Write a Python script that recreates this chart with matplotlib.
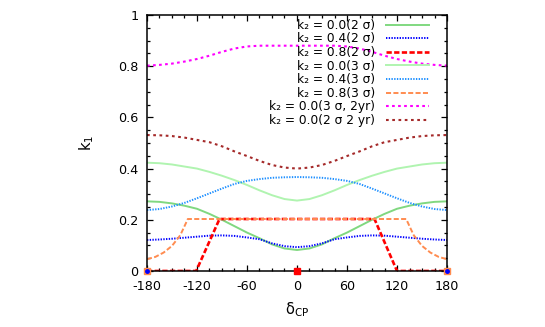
import matplotlib
matplotlib.use('Agg')
import matplotlib.pyplot as plt

plt.rcParams['font.family'] = ['DejaVu Sans']
plt.rcParams['mathtext.default'] = 'regular'
plt.rcParams['axes.unicode_minus'] = False

# delta_CP grid (degrees) for the smooth curves
delta = [-180, -165, -150, -135, -120, -105, -90, -75, -60, -45, -30, -15,
         0, 15, 30, 45, 60, 75, 90, 105, 120, 135, 150, 165, 180]

k1_00_2s = [0.272, 0.270, 0.264, 0.255, 0.243, 0.223, 0.200, 0.175, 0.150,
            0.128, 0.104, 0.088, 0.082, 0.088, 0.104, 0.128, 0.150, 0.175,
            0.200, 0.223, 0.243, 0.255, 0.264, 0.270, 0.272]
k1_04_2s = [0.121, 0.123, 0.126, 0.130, 0.134, 0.138, 0.139, 0.137, 0.131,
            0.124, 0.108, 0.097, 0.093, 0.097, 0.108, 0.124, 0.131, 0.137,
            0.139, 0.138, 0.134, 0.130, 0.126, 0.123, 0.121]
k1_00_3s = [0.423, 0.421, 0.416, 0.408, 0.400, 0.387, 0.372, 0.355, 0.336,
            0.315, 0.296, 0.281, 0.275, 0.281, 0.296, 0.315, 0.336, 0.355,
            0.372, 0.387, 0.400, 0.408, 0.416, 0.421, 0.423]
k1_04_3s = [0.238, 0.242, 0.252, 0.266, 0.284, 0.303, 0.322, 0.340, 0.352,
            0.359, 0.364, 0.366, 0.367, 0.366, 0.364, 0.359, 0.352, 0.340,
            0.322, 0.303, 0.284, 0.266, 0.252, 0.242, 0.238]
k1_00_3s_2yr = [0.802, 0.805, 0.810, 0.818, 0.828, 0.841, 0.856, 0.869,
                0.877, 0.880, 0.880, 0.880, 0.880, 0.880, 0.880, 0.880,
                0.877, 0.869, 0.856, 0.841, 0.828, 0.818, 0.810, 0.805, 0.802]
k1_00_2s_2yr = [0.531, 0.530, 0.527, 0.521, 0.512, 0.503, 0.487, 0.467,
                0.449, 0.430, 0.414, 0.404, 0.400, 0.404, 0.414, 0.430,
                0.449, 0.467, 0.487, 0.503, 0.512, 0.521, 0.527, 0.530, 0.531]

# piecewise curves for k2 = 0.8
delta_08_2s = [-180, -121, -93, 93, 120, 180]
k1_08_2s = [0.0, 0.0, 0.203, 0.203, 0.0, 0.0]
delta_08_3s = [-180, -170, -160, -150, -140, -131, 131, 140, 150, 160, 170, 180]
k1_08_3s = [0.046, 0.055, 0.072, 0.098, 0.140, 0.203, 0.203, 0.140, 0.098,
            0.072, 0.055, 0.046]

# isolated points on the axis
pts_edge_x = [-180, 180]
pts_edge_y = [0, 0]
pts_mid_x = [0]
pts_mid_y = [0]

fig = plt.figure(figsize=(5.45, 3.27), dpi=100)
ax = fig.add_axes([0.2697, 0.1713, 0.5505, 0.7829])

ax.plot(delta, k1_00_2s, color='#80d880', lw=1.4, label='k₂ = 0.0(2 σ)')
ax.plot(delta, k1_04_2s, color='#0000ff', lw=1.4, ls=(0, (0.7, 0.7)),
        label='k₂ = 0.4(2 σ)')
ax.plot(delta_08_2s, k1_08_2s, color='#ff0000', lw=1.9, ls=(0, (2.0, 0.9)),
        label='k₂ = 0.8(2 σ)')
ax.plot(delta, k1_00_3s, color='#b0f4b0', lw=1.4, label='k₂ = 0.0(3 σ)')
ax.plot(delta, k1_04_3s, color='#1e90ff', lw=1.4, ls=(0, (0.7, 0.7)),
        label='k₂ = 0.4(3 σ)')
ax.plot(delta_08_3s, k1_08_3s, color='#ff8c50', lw=1.4, ls=(0, (2.6, 1.2)),
        label='k₂ = 0.8(3 σ)')
ax.plot(delta, k1_00_3s_2yr, color='#ff00ff', lw=1.5, ls=(0, (1.3, 1.6)),
        label='k₂ = 0.0(3 σ, 2yr)')
ax.plot(delta, k1_00_2s_2yr, color='#a52a2a', lw=1.5, ls=(0, (1.3, 1.7)),
        label='k₂ = 0.0(2 σ 2 yr)')

ax.plot(pts_edge_x, pts_edge_y, ls='none', marker='s', ms=5,
        color='#ff8c50', clip_on=False, zorder=5)
ax.plot(pts_edge_x, pts_edge_y, ls='none', marker='o', ms=2.5,
        color='#0000ff', clip_on=False, zorder=6)
ax.plot(pts_mid_x, pts_mid_y, ls='none', marker='s', ms=4.5,
        color='#ff0000', clip_on=False, zorder=6)

ax.set_xlim(-180, 180)
ax.set_ylim(0, 1)
ax.set_xticks([-180, -120, -60, 0, 60, 120, 180])
ax.set_xticks(range(-180, 181, 15), minor=True)
ax.set_yticks([0, 0.2, 0.4, 0.6, 0.8, 1])
ax.set_yticklabels(['0', '0.2', '0.4', '0.6', '0.8', '1'])
ax.set_yticks([i * 0.05 for i in range(21)], minor=True)
ax.tick_params(which='both', direction='in', top=True, right=True,
               labelsize=9.2, width=0.9)
ax.tick_params(which='major', length=4.5)
ax.tick_params(which='minor', length=2.2)
ax.tick_params(axis='x', which='major', pad=6.5)
ax.tick_params(axis='y', which='major', pad=6)
for s in ax.spines.values():
    s.set_linewidth(1.1)

ax.set_xlabel('δ$_{CP}$', fontsize=10.5)
ax.xaxis.set_label_coords(0.5, -0.115)
ax.xaxis.label.set_va('top')
ax.set_ylabel('k$_1$', fontsize=10.5)
ax.yaxis.set_label_coords(-0.17, 0.5)

ax.legend(loc='upper right', bbox_to_anchor=(0.94, 0.985), frameon=False,
          markerfirst=False, fontsize=8.8, handlelength=3.5, handletextpad=0.9,
          labelspacing=0.05, borderpad=0, borderaxespad=0)

fig.savefig('out.png', dpi=100)
